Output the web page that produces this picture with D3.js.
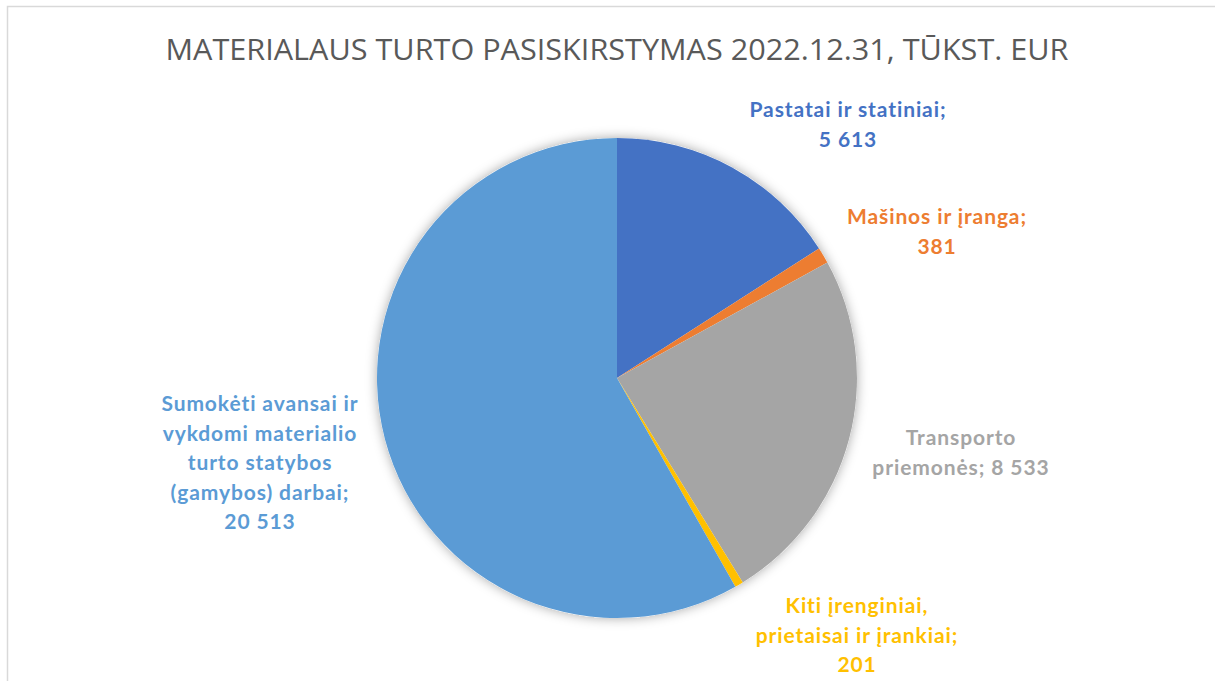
<!DOCTYPE html>
<html>
<head>
<meta charset="utf-8">
<script src="https://cdn.jsdelivr.net/npm/d3@7"></script>
<style>
  body { margin: 0; background: #fff; }
</style>
</head>
<body>
<script>
// Duomenys
const categories = [
  "Pastatai ir statiniai",
  "Mašinos ir įranga",
  "Transporto priemonės",
  "Kiti įrenginiai, prietaisai ir įrankiai",
  "Sumokėti avansai ir vykdomi materialio turto statybos (gamybos) darbai"
];
const values = [5613, 381, 8533, 201, 20513];
const valueLabels = ["5 613", "381", "8 533", "201", "20 513"];
const labelLines = [
  ["Pastatai ir statiniai;", "5 613"],
  ["Mašinos ir įranga;", "381"],
  ["Transporto", "priemonės; 8 533"],
  ["Kiti įrenginiai,", "prietaisai ir įrankiai;", "201"],
  ["Sumokėti avansai ir", "vykdomi materialio", "turto statybos", "(gamybos) darbai;", "20 513"]
];
const colors = ["#4472C4", "#ED7D31", "#A5A5A5", "#FFC000", "#5B9BD5"];

// Išdėstymas
const width = 1215, height = 681;
const cx = 617, cy = 378, radius = 240;
const labelAnchors = [[848, 110], [937, 217], [961, 438], [857, 606], [260, 404]];
const lineGap = 29.5;

const svg = d3.select("body").append("svg")
  .attr("width", width)
  .attr("height", height);

// rėmelis
svg.append("rect")
  .attr("x", 7.5).attr("y", 6.5)
  .attr("width", width + 10).attr("height", height + 10)
  .attr("fill", "#fff")
  .attr("stroke", "#d9d9d9")
  .attr("stroke-width", 1.5);

const defs = svg.append("defs");
const filter = defs.append("filter").attr("id", "shadow")
  .attr("x", "-20%").attr("y", "-20%").attr("width", "140%").attr("height", "140%");
filter.append("feDropShadow")
  .attr("dx", 0).attr("dy", 0)
  .attr("stdDeviation", 6)
  .attr("flood-color", "#000")
  .attr("flood-opacity", 0.35);

// Pavadinimas
svg.append("text")
  .attr("x", 617).attr("y", 60)
  .attr("text-anchor", "middle")
  .attr("font-family", "'Open Sans', sans-serif")
  .attr("font-weight", 400)
  .attr("font-size", 30)
  .attr("fill", "#595959")
  .attr("textLength", 903)
  .attr("lengthAdjust", "spacingAndGlyphs")
  .text("MATERIALAUS TURTO PASISKIRSTYMAS 2022.12.31, TŪKST. EUR");

const pie = d3.pie().sort(null).value(d => d)(values);
const arc = d3.arc().innerRadius(0).outerRadius(radius);

const g = svg.append("g").attr("transform", `translate(${cx},${cy})`);

g.append("circle").attr("r", radius).attr("fill", "#fff").attr("filter", "url(#shadow)");

g.selectAll("path")
  .data(pie)
  .enter()
  .append("path")
  .attr("d", arc)
  .attr("fill", (d, i) => colors[i]);

// Etiketės
labelLines.forEach((lines, i) => {
  const t = svg.append("text")
    .attr("text-anchor", "middle")
    .attr("font-family", "Lato, 'Open Sans', sans-serif")
    .attr("font-weight", "bold")
    .attr("font-size", 21)
    .attr("letter-spacing", 0.9)
    .style("font-variant-ligatures", "none")
    .attr("fill", colors[i]);
  lines.forEach((l, j) => {
    t.append("tspan")
      .attr("x", labelAnchors[i][0])
      .attr("y", labelAnchors[i][1] + j * lineGap)
      .attr("dy", "0.35em")
      .text(l);
  });
});
</script>
</body>
</html>
